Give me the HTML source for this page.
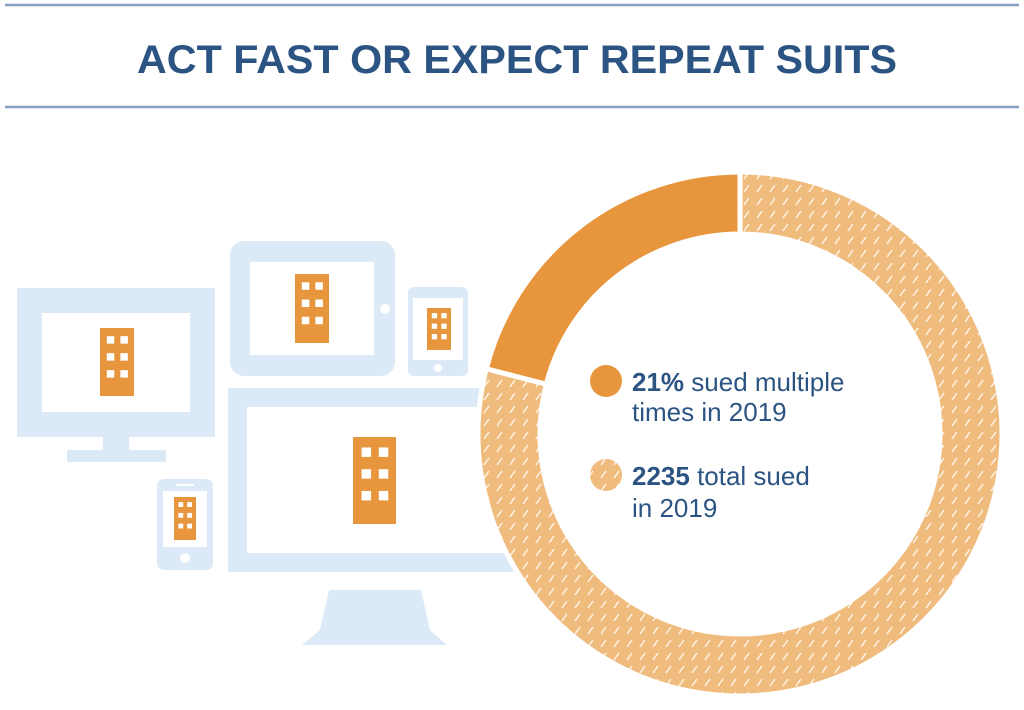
<!DOCTYPE html>
<html><head><meta charset="utf-8"><style>
html,body{margin:0;padding:0;background:#fff;width:1024px;height:710px;overflow:hidden}
svg{display:block}
</style></head><body>
<svg id="chart" width="1024" height="710" viewBox="0 0 1024 710" xmlns="http://www.w3.org/2000/svg" font-family="'Liberation Sans', sans-serif">
<defs>
<pattern id="hatch" patternUnits="userSpaceOnUse" width="13" height="13">
<rect width="13" height="13" fill="#F0BC7D"/>
<line x1="3" y1="10" x2="8" y2="3" stroke="#fff" stroke-width="1.4" stroke-opacity="0.85"/>
</pattern>
</defs>
<line x1="5" y1="5" x2="1019" y2="5" stroke="#86A1C0" stroke-width="2.5"/>
<line x1="5" y1="107" x2="1019" y2="107" stroke="#86A1C0" stroke-width="2.5"/>
<text x="517" y="73" text-anchor="middle" font-size="40" font-weight="bold" fill="#2C5482" textLength="760" lengthAdjust="spacingAndGlyphs">ACT FAST OR EXPECT REPEAT SUITS</text>

<g fill="#DCEAF8">
<g>
<rect x="17" y="288" width="198" height="149"/>
<rect x="42" y="313" width="148" height="99" fill="#fff"/>
<rect x="103" y="437" width="26" height="14"/>
<rect x="67" y="450" width="99" height="12"/>
<rect x="100" y="328" width="34" height="68" fill="#E8963E"/>
</g>
<g>
<rect x="230" y="241" width="165" height="135" rx="14"/>
<rect x="250" y="262" width="124" height="93" fill="#fff"/>
<circle cx="385" cy="309" r="5" fill="#fff"/>
<rect x="295" y="274" width="34" height="69" fill="#E8963E"/>
</g>
<g>
<rect x="408" y="287" width="60" height="89" rx="6"/>
<rect x="413" y="298" width="50" height="62" fill="#fff"/>
<circle cx="438" cy="368" r="4" fill="#fff"/>
<rect x="427" y="308" width="24" height="42" fill="#E8963E"/>
</g>
<g>
<rect x="157" y="479" width="56" height="91" rx="7"/>
<rect x="163" y="491" width="44" height="56" fill="#fff"/>
<rect x="176" y="484" width="18" height="2" fill="#fff"/>
<circle cx="185" cy="558" r="5" fill="#fff"/>
<rect x="174" y="497" width="22" height="43" fill="#E8963E"/>
</g>
<g>
<rect x="228" y="388" width="320" height="184"/>
<rect x="247" y="407" width="300" height="146" fill="#fff"/>
<polygon points="329,590 421,590 430,630 447,645 302,645 320,630"/>
<rect x="353" y="437" width="43" height="87" fill="#E8963E"/>
</g>
<g fill="#fff" id="windows"></g>
</g>

<g id="donut"></g>

<g fill="#2C5482" font-size="26">
<g>
<circle cx="606" cy="381" r="16" fill="#E8963E"/>
<text x="632" y="391"><tspan font-weight="bold">21%</tspan> sued multiple</text>
<text x="632" y="421">times in 2019</text>
</g>
<g>
<circle cx="606" cy="475" r="16" fill="url(#hatch)"/>
<text x="632" y="485"><tspan font-weight="bold">2235</tspan> total sued</text>
<text x="632" y="517">in 2019</text>
</g>
</g>
</svg>
<script>
const categories = ["Sued multiple times", "Sued once"];
const seriesValues = [21, 79];
const sliceFills = ["#E8963E", "url(#hatch)"];

const NS = "http://www.w3.org/2000/svg";
const cx = 740, cy = 434, rOut = 262, rIn = 200;
const total = seriesValues.reduce((a, b) => a + b, 0);
function angleFor(v) { return v / total * Math.PI * 2; }
function pt(r, a) { return [cx + r * Math.sin(a), cy - r * Math.cos(a)]; }
const donut = document.getElementById("donut");
// first slice drawn counter-clockwise from top
let start = 0;
seriesValues.forEach((v, i) => {
  const sweep = angleFor(v);
  const a0 = -start - sweep, a1 = -start;
  const large = sweep > Math.PI ? 1 : 0;
  const p0 = pt(rOut, a0), p1 = pt(rOut, a1), p2 = pt(rIn, a1), p3 = pt(rIn, a0);
  const d = `M${p0[0]},${p0[1]} A${rOut},${rOut} 0 ${large} 1 ${p1[0]},${p1[1]} L${p2[0]},${p2[1]} A${rIn},${rIn} 0 ${large} 0 ${p3[0]},${p3[1]} Z`;
  const path = document.createElementNS(NS, "path");
  path.setAttribute("d", d);
  path.setAttribute("fill", sliceFills[i]);
  path.setAttribute("stroke", "#fff");
  path.setAttribute("stroke-width", "5");
  
  
  donut.appendChild(path);
  start += sweep;
});
const inner = document.createElementNS(NS, "circle");
inner.setAttribute("cx", cx); inner.setAttribute("cy", cy); inner.setAttribute("r", rIn - 2);
inner.setAttribute("fill", "#fff");


donut.appendChild(inner);

// building windows
const win = document.getElementById("windows");
[[100,328,34,68],[295,274,34,69],[427,308,24,42],[174,497,22,43],[353,437,43,87]].forEach(b => {
  const [x,y,w,h] = b;
  const s = w * 0.22;
  for (let r = 0; r < 3; r++) for (let c = 0; c < 2; c++) {
    const el = document.createElementNS(NS, "rect");
    el.setAttribute("x", x + w*0.2 + c * w*0.4);
    el.setAttribute("y", y + h*0.12 + r * h*0.25);
    el.setAttribute("width", s); el.setAttribute("height", s);
    
    
    win.appendChild(el);
  }
});
</script>
</body></html>
